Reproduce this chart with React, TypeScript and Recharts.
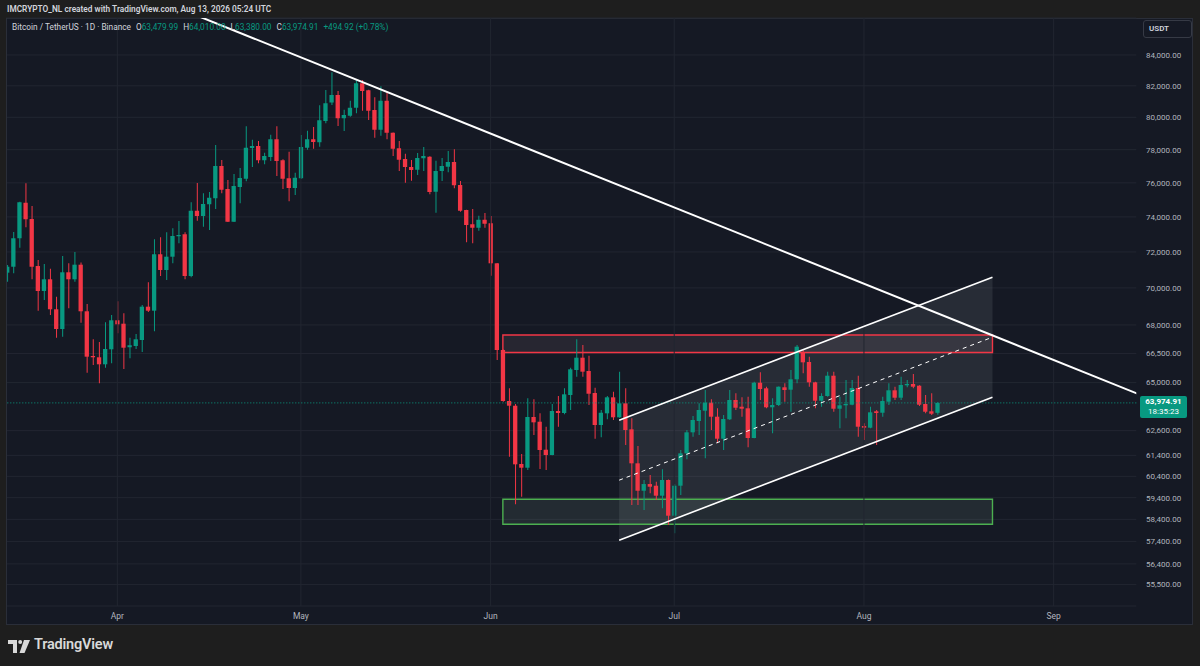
import React from 'react';
import {
  ComposedChart,
  Bar,
  Area,
  XAxis,
  YAxis,
  CartesianGrid,
  ReferenceLine,
  ReferenceArea,
  Cell,
} from 'recharts';

const FONT = 'Roboto, "Noto Sans", sans-serif';
const UP = '#089981';
const DOWN = '#f23645';
const GRID = '#222631';
const TEXT = '#b2b5be';

// one category per calendar day, Mar 14 .. Sep 14 2026
const startDay = Date.UTC(2026, 2, 14);
const dates = Array.from({ length: 185 }, (_, i) =>
  new Date(startDay + i * 86400000).toISOString().slice(0, 10)
);

// daily candles, Mar 14 .. Aug 13
const opens = [
  70840, 71170, 72773, 74830, 73880, 71210, 69832, 70474, 68839, 67785,
  70861, 70474, 71284, 68731, 66367, 66300, 65937, 66716, 68248, 68066,
  66821, 66889, 67204, 68979, 68763, 71867, 70989, 71731, 72887, 72998,
  70656, 74361, 74054, 74734, 75087, 77010, 75635, 73723, 75754, 76247,
  78102, 78225, 77354, 77554, 78635, 77354, 76271, 75695, 76271, 78120,
  78635, 78449, 79770, 80926, 81411, 79939, 80102, 80605, 82158, 81710,
  80460, 79229, 81048, 79042, 78084, 77433, 76949, 76787, 77475, 77573,
  75475, 76708, 76968, 77251, 75873, 74401, 73574, 73378, 73839, 73632,
  71361, 66679, 64069, 63834, 60987, 60810, 63272, 63039, 61673, 61418,
  63569, 63470, 64371, 65643, 66279, 65592, 64473, 62877, 63454, 64255,
  63257, 63953, 62665, 61019, 59724, 60038, 59959, 59492, 60228, 58568,
  59959, 61498, 62518, 63075, 63584, 63984, 63287, 62206, 63158, 64119,
  63784, 63704, 62241, 64993, 64709, 63754, 63869, 64760, 64639, 65167,
  66538, 66055, 65013, 64084, 64321, 65351, 63684, 63854, 63884, 64724,
  62828, 62744, 63555, 63484, 64034, 64608, 64235, 64862, 64928, 64842,
  63919, 63555, 63479.99,
];
const highs = [
  71267, 73133, 74888, 75974, 74636, 71547, 71323, 71061, 69521, 71771,
  71362, 71996, 71400, 69124, 67241, 67099, 68141, 68532, 69271, 68623,
  67325, 67520, 69070, 70309, 72716, 72830, 73116, 73344, 73764, 73114,
  74851, 75990, 75380, 75457, 78286, 77372, 76169, 76527, 76889, 79440,
  78611, 78530, 77814, 78918, 79440, 77415, 77875, 76606, 78901, 79166,
  79397, 80757, 81729, 82869, 81665, 80479, 81048, 82419, 82372, 81750,
  81264, 81967, 81581, 79060, 78530, 77753, 77372, 77797, 78163, 77600,
  77329, 77494, 77918, 78022, 76110, 74420, 74460, 74071, 74226, 74054,
  71380, 66700, 64709, 63919, 61464, 64205, 64155, 63454, 62793, 63919,
  64321, 64709, 65762, 67240, 66941, 66383, 64740, 63619, 64321, 64537,
  65557, 64709, 63207, 61852, 60228, 60464, 60148, 60734, 60250, 60040,
  61658, 62631, 63321, 63953, 64624, 64155, 63704, 63371, 64624, 64457,
  64255, 64285, 65044, 65524, 64791, 64205, 64800, 64963, 65643, 66941,
  66679, 66331, 65044, 64457, 65557, 65557, 64285, 65131, 65131, 65351,
  62961, 63784, 63619, 64285, 64963, 64791, 65300, 65131, 65438, 64860,
  64371, 64457, 64010,
];
const lows = [
  70343, 70806, 72239, 73402, 70474, 68763, 69341, 68532, 67325, 67378,
  68892, 70343, 68120, 65505, 65901, 64964, 65762, 65989, 67557, 65695,
  66248, 66732, 66576, 68693, 67663, 70656, 70436, 71361, 72487, 70473,
  70584, 73781, 73436, 73246, 74460, 75380, 73700, 73700, 74792, 76092,
  76949, 77171, 77111, 77311, 76409, 75635, 74910, 75281, 76250, 77998,
  78059, 78182, 79627, 80776, 79459, 79148, 80039, 80251, 80416, 79832,
  78734, 78858, 78635, 77615, 76708, 76008, 76127, 76469, 76708, 75322,
  74244, 76110, 76630, 75677, 74302, 72544, 72487, 73206, 73378, 70672,
  66159, 64034, 61336, 59092, 59446, 60701, 62387, 60748, 60701, 61400,
  62793, 63406, 63619, 65300, 65300, 63869, 62206, 62275, 63158, 63124,
  63240, 61901, 59060, 59060, 58830, 59602, 59292, 58907, 58143, 57765,
  59525, 61211, 62304, 62387, 61259, 62631, 61982, 61658, 63124, 63619,
  63287, 61789, 62226, 64119, 63704, 62470, 63819, 64034, 63535, 64963,
  65473, 64791, 63704, 63784, 64285, 63535, 62714, 63207, 63860, 62304,
  62144, 62714, 61901, 63287, 63869, 64119, 64119, 64760, 64709, 63819,
  63454, 63371, 63380,
];
const closes = [
  71170, 72773, 74853, 73863, 71170, 69832, 70474, 68839, 67785, 70861,
  70474, 71284, 68731, 66331, 66300, 65937, 66732, 68248, 68034, 66800,
  66925, 67241, 68979, 68763, 71867, 70989, 71732, 72904, 72961, 70656,
  74361, 74054, 74751, 75122, 77010, 75594, 73723, 75814, 76289, 78120,
  78225, 77354, 77615, 78635, 77311, 76247, 75695, 76307, 78163, 78635,
  78468, 79814, 80882, 81411, 79939, 80146, 80605, 82158, 81665, 80416,
  79229, 81048, 79042, 78059, 77390, 76949, 76768, 77494, 77615, 75457,
  76708, 77010, 77251, 75855, 74361, 73534, 73378, 73839, 73609, 71361,
  66679, 64069, 63834, 60971, 60810, 63272, 63009, 61658, 61418, 63569,
  63470, 64405, 65679, 66279, 65557, 64435, 62877, 63484, 64255, 63257,
  63953, 62631, 61019, 59724, 60038, 59912, 59492, 60228, 58568, 59959,
  61498, 62518, 63124, 63619, 63984, 63287, 62206, 63173, 64119, 63734,
  63684, 62241, 64993, 64674, 63754, 63869, 64791, 64624, 65167, 66852,
  66039, 65013, 64084, 64321, 65351, 63684, 63854, 63919, 64724, 62793,
  62744, 63505, 63470, 64069, 64608, 64235, 64877, 64928, 64791, 63884,
  63535, 63434, 63974.91,
];

const monthStarts = ['2026-04-01', '2026-05-01', '2026-06-01', '2026-07-01', '2026-08-01', '2026-09-01'];
const monthLabels = ['Apr', 'May', 'Jun', 'Jul', 'Aug', 'Sep'];
const priceTicks = [
  55500, 56400, 57400, 58400, 59400, 60400, 61400, 62600, 65000, 66500,
  68000, 70000, 72000, 74000, 76000, 78000, 80000, 82000, 84000,
];
const lastPrice = 63974.91;

// drawings, x given as day number counted from Mar 14
const trendDays = [30, 186];
const trendPrices = [86800, 64276];
const channelDays = [100, 161];
const channelUpper = [63115, 70590];
const channelMid = [60219, 67352];
const channelLower = [57456, 64260];
const boxDays = [81, 161];
const redBox = [66550, 67468];
const greenBox = [58176, 59326];

const rows = dates.map((date, i) => {
  const has = i < closes.length;
  const c = channelDays.indexOf(i);
  return {
    date,
    day: i,
    body: has ? [Math.min(opens[i], closes[i]), Math.max(opens[i], closes[i])] : null,
    wick: has ? [lows[i], highs[i]] : null,
    up: has ? closes[i] >= opens[i] : true,
    chan: c >= 0 ? [channelLower[c], channelUpper[c]] : null,
  };
});

const fmtPrice = (v: number) =>
  v.toLocaleString('en-US', { minimumFractionDigits: 2, maximumFractionDigits: 2 });

const MonthTick = (props: any) => {
  const { x, y, payload } = props;
  const k = monthStarts.indexOf(payload.value);
  if (k < 0) return <g />;
  return (
    <text x={x} y={y + 13} textAnchor="middle" fill={TEXT} fontSize={8.5} fontFamily={FONT}>
      {monthLabels[k]}
    </text>
  );
};

const seg = (d: number[], p: number[]) => [
  { x: d[0], y: p[0] },
  { x: d[1], y: p[1] },
];

export default function App() {
  return (
    <div
      style={{
        position: 'fixed',
        left: 0,
        top: 0,
        width: 1200,
        height: 666,
        background: '#1e1e1e',
        fontFamily: FONT,
        overflow: 'hidden',
      }}
    >
      {/* chart pane */}
      <div
        style={{
          position: 'absolute',
          left: 6,
          top: 18,
          width: 1187,
          height: 607,
          background: '#151924',
          border: '1px solid #2a2e39',
          boxSizing: 'border-box',
        }}
      />
      <div style={{ position: 'absolute', left: 0, top: 0 }}>
        <ComposedChart
          width={1200}
          height={666}
          data={rows}
          margin={{ top: 18, right: 7, bottom: 42, left: 4.08 }}
        >
          <CartesianGrid vertical={false} stroke={GRID} />
          <XAxis
            dataKey="date"
            interval={0}
            tick={MonthTick}
            tickLine={false}
            axisLine={false}
            tickSize={0}
            tickMargin={0}
            height={18}
          />
          <XAxis xAxisId="wick" dataKey="date" hide />
          <XAxis
            xAxisId="day"
            dataKey="day"
            type="number"
            domain={[-0.5, dates.length - 0.5]}
            allowDataOverflow
            hide
          />
          <YAxis
            orientation="right"
            type="number"
            scale="log"
            domain={[54571, 86468]}
            allowDataOverflow
            ticks={priceTicks}
            interval={0}
            tickFormatter={fmtPrice}
            tick={{ fill: TEXT, fontSize: 8, fontFamily: FONT }}
            tickLine={false}
            axisLine={false}
            tickSize={0}
            tickMargin={9.7}
            width={56.7}
          />
          {monthStarts.map((d) => (
            <ReferenceLine key={d} x={d} stroke={GRID} />
          ))}
          <ReferenceLine y={lastPrice} stroke={UP} strokeDasharray="1 2" />

          <Bar dataKey="wick" xAxisId="wick" barSize={1} isAnimationActive={false}>
            {rows.map((r) => (
              <Cell key={r.date} fill={r.up ? UP : DOWN} />
            ))}
          </Bar>
          <Bar dataKey="body" barSize={4.3} minPointSize={1} isAnimationActive={false}>
            {rows.map((r) => (
              <Cell key={r.date} fill={r.up ? UP : DOWN} />
            ))}
          </Bar>

          <Area
            dataKey="chan"
            connectNulls
            stroke="none"
            fill="#9598a1"
            fillOpacity={0.15}
            dot={false}
            activeDot={false}
            isAnimationActive={false}
          />
          <ReferenceArea
            xAxisId="day"
            x1={boxDays[0]}
            x2={boxDays[1]}
            y1={redBox[0]}
            y2={redBox[1]}
            fill="#b08a92"
            fillOpacity={0.12}
            stroke={DOWN}
            strokeWidth={1.4}
          />
          <ReferenceArea
            xAxisId="day"
            x1={boxDays[0]}
            x2={boxDays[1]}
            y1={greenBox[0]}
            y2={greenBox[1]}
            fill="#8fb59a"
            fillOpacity={0.12}
            stroke="#4caf50"
            strokeWidth={1.4}
          />
          <ReferenceLine xAxisId="day" segment={seg(channelDays, channelUpper)} stroke="#ffffff" strokeWidth={1.6} />
          <ReferenceLine xAxisId="day" segment={seg(channelDays, channelLower)} stroke="#ffffff" strokeWidth={1.6} />
          <ReferenceLine
            xAxisId="day"
            segment={seg(channelDays, channelMid)}
            stroke="#ffffff"
            strokeWidth={1}
            strokeDasharray="4 4"
          />
          <ReferenceLine
            xAxisId="day"
            segment={seg(trendDays, trendPrices)}
            stroke="#ffffff"
            strokeWidth={2}
            ifOverflow="hidden"
          />
        </ComposedChart>
      </div>

      {/* page edge over the first candle */}
      <div style={{ position: 'absolute', left: 0, top: 0, width: 6, height: 666, background: '#1e1e1e' }} />
      <div style={{ position: 'absolute', left: 6, top: 18, width: 1, height: 607, background: '#2a2e39' }} />

      {/* header */}
      <div
        style={{
          position: 'absolute',
          left: 7,
          top: 4,
          fontSize: 8.3,
          fontWeight: 600,
          color: '#d1d4dc',
          whiteSpace: 'nowrap',
        }}
      >
        IMCRYPTO_NL created with TradingView.com, Aug 13, 2026 05:24 UTC
      </div>
      <div
        style={{
          position: 'absolute',
          left: 12,
          top: 22,
          fontSize: 8.3,
          color: '#d1d4dc',
          whiteSpace: 'nowrap',
        }}
      >
        <span>Bitcoin / TetherUS · 1D · Binance</span>
        <span style={{ marginLeft: 5 }}>O</span>
        <span style={{ color: UP }}>63,479.99</span>
        <span style={{ marginLeft: 5 }}>H</span>
        <span style={{ color: UP }}>64,010.00</span>
        <span style={{ marginLeft: 5 }}>L</span>
        <span style={{ color: UP }}>63,380.00</span>
        <span style={{ marginLeft: 5 }}>C</span>
        <span style={{ color: UP }}>63,974.91</span>
        <span style={{ marginLeft: 5, color: UP }}>+494.92 (+0.78%)</span>
      </div>
      <div
        style={{
          position: 'absolute',
          left: 1143,
          top: 20,
          width: 49,
          height: 18,
          border: '1px solid #363a45',
          borderRadius: 3,
          boxSizing: 'border-box',
          fontSize: 8,
          fontWeight: 600,
          color: '#d1d4dc',
          padding: '3px 0 0 5px',
          background: '#151924',
        }}
      >
        USDT
      </div>

      {/* last price tag */}
      <div
        style={{
          position: 'absolute',
          left: 1140,
          top: 396,
          width: 47,
          height: 22,
          background: UP,
          borderRadius: 2,
          color: '#ffffff',
          fontSize: 8,
          lineHeight: '10px',
          textAlign: 'center',
          paddingTop: 1,
          boxSizing: 'border-box',
        }}
      >
        <div style={{ fontWeight: 700 }}>63,974.91</div>
        <div>18:35:23</div>
      </div>

      {/* footer logo */}
      <svg
        width={24}
        height={14}
        viewBox="0 0 24 14"
        style={{ position: 'absolute', left: 8, top: 640 }}
      >
        <path d="M0 0 H9 V13 H5 V4 H0 Z" fill="#d9d9d9" />
        <circle cx={12.2} cy={2} r={2} fill="#d9d9d9" />
        <path d="M16 0 H22 L16.5 13 H11.5 Z" fill="#d9d9d9" />
      </svg>
      <div
        style={{
          position: 'absolute',
          left: 34,
          top: 636,
          fontSize: 14.5,
          fontWeight: 600,
          color: '#d9d9d9',
          whiteSpace: 'nowrap',
          letterSpacing: -0.2,
        }}
      >
        TradingView
      </div>
    </div>
  );
}
